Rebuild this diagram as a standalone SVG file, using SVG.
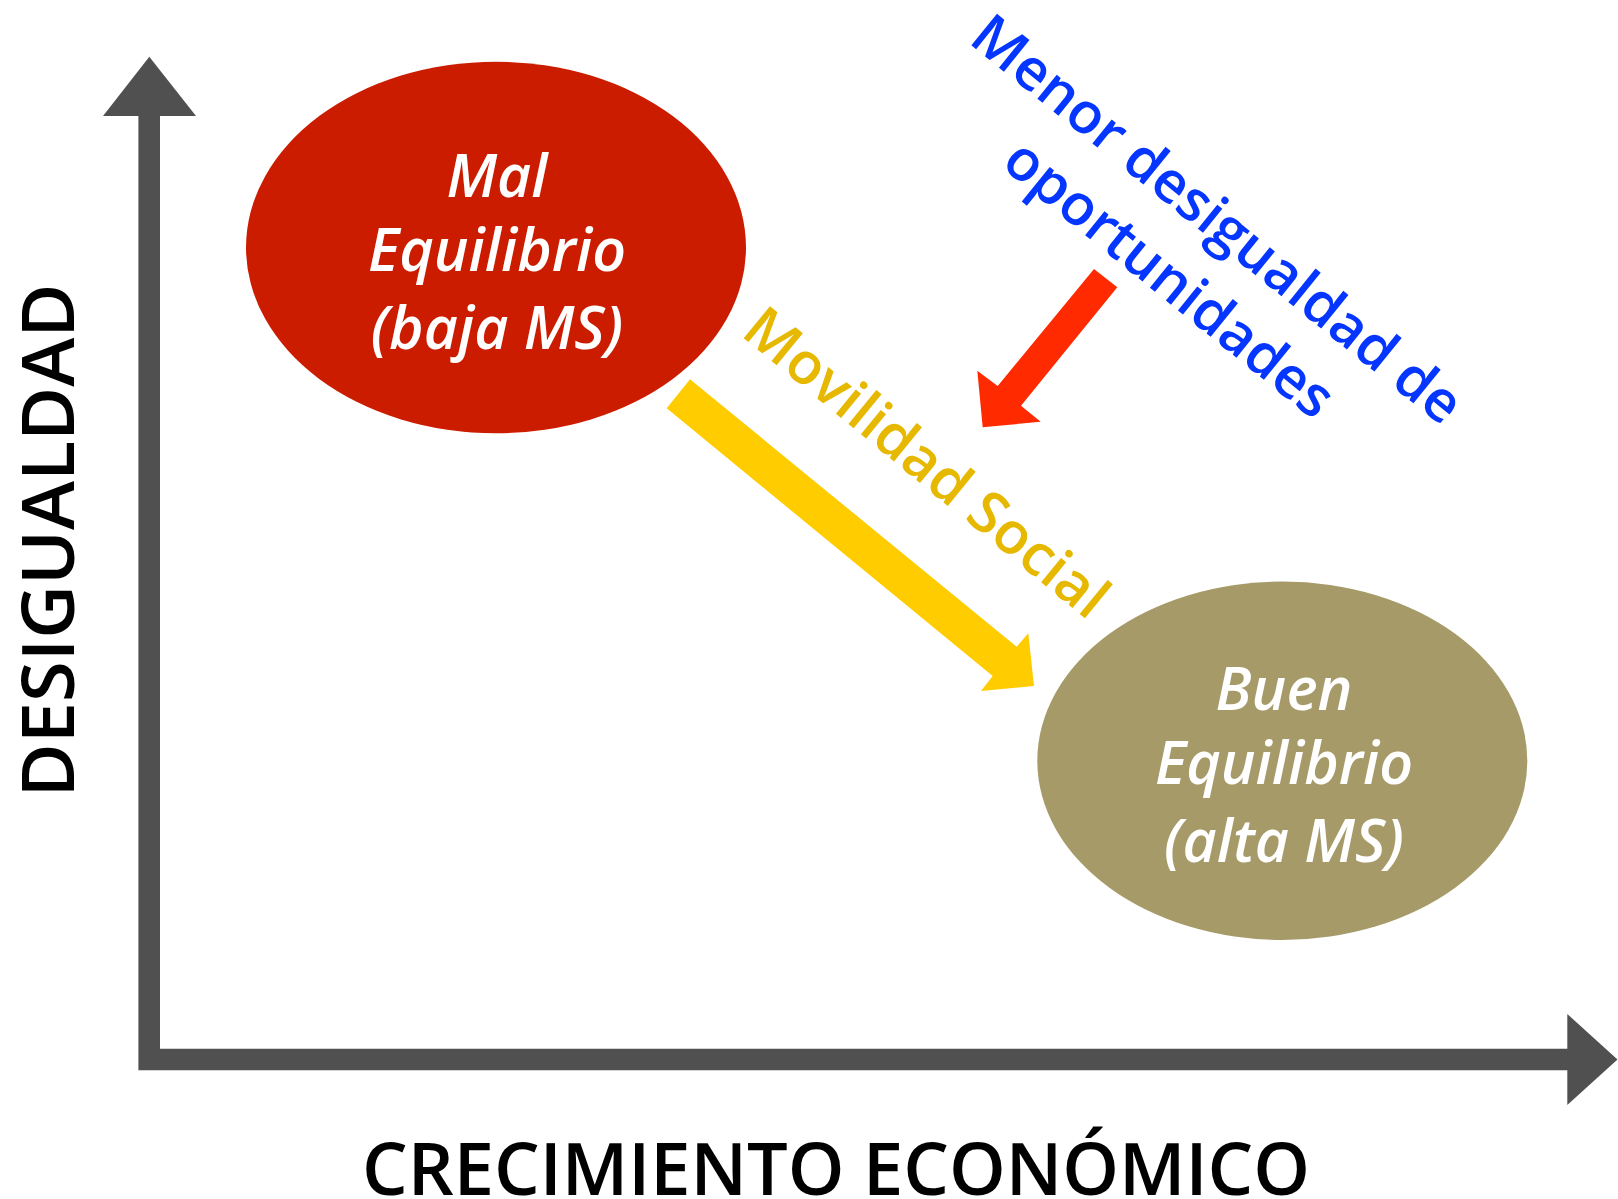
<svg xmlns="http://www.w3.org/2000/svg" width="1618" height="1199" viewBox="0 0 1618 1199">
<style>
.axis{fill:none;stroke:#505050;stroke-width:21.6;stroke-linejoin:miter}
.head{fill:#505050}
.lbl{font-family:"Open Sans","Liberation Sans",sans-serif;font-weight:600;fill:#000}
.node{font-family:"Open Sans","Liberation Sans",sans-serif;font-style:italic;font-weight:600;font-size:59px;fill:#fff;text-anchor:middle}
.blue{font-family:"Open Sans","Liberation Sans",sans-serif;font-weight:600;font-size:57px;fill:#0536FF;text-anchor:middle}
.yel{font-family:"Open Sans","Liberation Sans",sans-serif;font-weight:600;font-size:58px;fill:#E6B800;text-anchor:middle}
</style>
<rect width="1618" height="1199" fill="#fff"/>
<g id="axes">
<path class="axis" d="M149.2,116 V1059.5 H1568"/>
<polygon class="head" points="149.3,56.7 196,116 103,116"/>
<polygon class="head" points="1567.3,1014 1617.5,1059.5 1567.3,1105"/>
<text class="lbl" font-size="73" x="362" y="1195" textLength="948" lengthAdjust="spacingAndGlyphs">CRECIMIENTO ECONÓMICO</text>
<text class="lbl" font-size="73" transform="translate(74,540.5) rotate(-90)" text-anchor="middle" textLength="514" lengthAdjust="spacingAndGlyphs">DESIGUALDAD</text>
</g>
<g id="connectors">
<polygon fill="#FFCC00" points="690,379.3 1016.7,646.7 1028.3,633.3 1034,686 981,691 992.7,676 666.7,408.3"/>
<polygon fill="#FF2A00" points="1094,269 1117.3,287.3 1021,405.7 1040.7,421.7 982.7,427.3 977.3,370.7 997.7,386"/>
<text class="yel" transform="translate(914,478) rotate(39.4)">Movilidad Social</text>
<g id="label-oportunidades" transform="translate(1205,234.5) rotate(39)">
<text class="blue" x="0" y="0">Menor desigualdad de</text>
<text class="blue" x="0" y="76">oportunidades</text>
</g>
</g>
<g id="node-mal">
<ellipse cx="496" cy="247.5" rx="250" ry="185.8" fill="#CC1C00"/>
<text class="node" x="497" y="197">Mal</text>
<text class="node" x="497" y="271">Equilibrio</text>
<text class="node" x="497" y="348.5">(baja MS)</text>
</g>
<g id="node-buen">
<ellipse cx="1282.3" cy="760.8" rx="245" ry="179.2" fill="#A69A68"/>
<text class="node" x="1284" y="710">Buen</text>
<text class="node" x="1284" y="784.3">Equilibrio</text>
<text class="node" x="1284" y="861.7">(alta MS)</text>
</g>
</svg>
